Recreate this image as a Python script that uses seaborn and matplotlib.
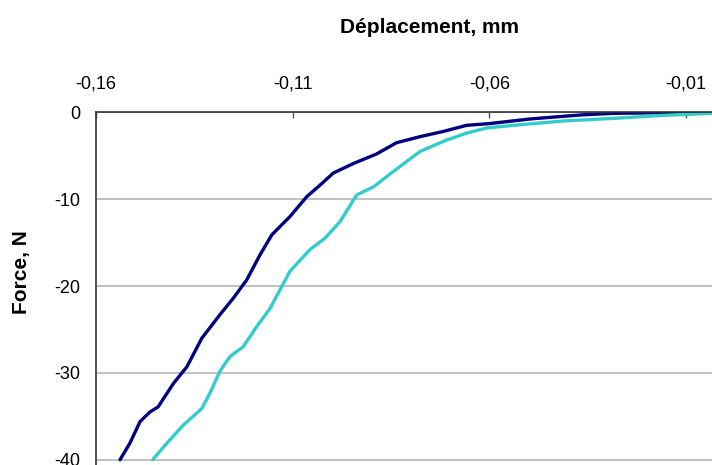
import numpy as np
import pandas as pd
import seaborn as sns
import matplotlib
matplotlib.use('Agg')
import matplotlib.pyplot as plt

# curve 1 (dark blue)
x_dark = [-0.1539, -0.1514, -0.1488, -0.1463, -0.1442, -0.1403, -0.1369, -0.1331,
          -0.1285, -0.1251, -0.1217, -0.1183, -0.1153, -0.1107, -0.1064, -0.1031,
          -0.0997, -0.0946, -0.0887, -0.0836, -0.0776, -0.0717, -0.0658, -0.0600,
          -0.0497, -0.0370, -0.0285, -0.0175, -0.0034]
y_dark = [-40.0, -38.1, -35.6, -34.5, -33.9, -31.2, -29.3, -26.0,
          -23.3, -21.4, -19.3, -16.4, -14.1, -12.0, -9.7, -8.4,
          -7.0, -5.9, -4.8, -3.5, -2.8, -2.2, -1.5, -1.3,
          -0.77, -0.31, -0.12, -0.05, 0.0]

# curve 2 (turquoise)
x_light = [-0.1456, -0.1420, -0.1378, -0.1331, -0.1310, -0.1285, -0.1259, -0.1226,
           -0.1192, -0.1158, -0.1107, -0.1056, -0.1018, -0.0980, -0.0937, -0.0895,
           -0.0844, -0.0776, -0.0709, -0.0658, -0.0607, -0.0539, -0.0412, -0.0285,
           -0.0158, -0.0034]
y_light = [-40.0, -38.1, -36.0, -34.1, -32.3, -29.8, -28.1, -27.0,
           -24.7, -22.6, -18.3, -15.8, -14.5, -12.6, -9.5, -8.6,
           -6.8, -4.5, -3.2, -2.4, -1.8, -1.5, -1.0, -0.7,
           -0.35, -0.12]

x_ticks = [-0.16, -0.11, -0.06, -0.01]
x_tick_labels = ['-0,16', '-0,11', '-0,06', '-0,01']
y_ticks = [0, -10, -20, -30, -40]

df = pd.concat([
    pd.DataFrame({'x': x_dark, 'y': y_dark, 'essai': 'a'}),
    pd.DataFrame({'x': x_light, 'y': y_light, 'essai': 'b'}),
], ignore_index=True)

sns.set_style('white')
plt.rcParams['font.family'] = ['Liberation Sans', 'DejaVu Sans']

fig = plt.figure(figsize=(7.12, 4.65), dpi=100)
ax = fig.add_axes([96 / 712, 0, 616 / 712, 352.7 / 465])

sns.lineplot(data=df, x='x', y='y', hue='essai', palette=['#000080', '#33cccc'],
             estimator=None, sort=False, linewidth=2.4, legend=False, ax=ax,
             solid_joinstyle='round', solid_capstyle='round')

ax.set_xlim(-0.16, -0.00342)
ax.set_ylim(-40.6, 0)

ax.xaxis.tick_top()
ax.set_xticks(x_ticks)
ax.set_xticklabels(x_tick_labels)
ax.set_yticks(y_ticks)
ax.set_yticklabels([str(v) for v in y_ticks])
ax.tick_params(axis='x', direction='in', length=4, width=1, color='#555555',
               labelsize=13, pad=14, labelcolor='black')
ax.tick_params(axis='y', direction='out', length=4.5, width=1, color='#555555',
               labelsize=13, pad=7, labelcolor='black')
ax.set_xlabel('')
ax.set_ylabel('')

ax.yaxis.grid(True, color='#c0c0c0', linewidth=1.4)
ax.set_axisbelow(True)
for s in ['right', 'bottom']:
    ax.spines[s].set_visible(False)
for s in ['top', 'left']:
    ax.spines[s].set_color('#333333')
    ax.spines[s].set_linewidth(1.2)

fig.text(430 / 712, 1 - 33 / 465, 'Déplacement, mm', ha='center', va='baseline',
         fontsize=15, fontweight='bold', color='black')
fig.text(22 / 712, 1 - 272 / 465, 'Force, N', ha='center', va='center',
         rotation=90, fontsize=15, fontweight='bold', color='black')

plt.savefig('out.png', dpi=100)
